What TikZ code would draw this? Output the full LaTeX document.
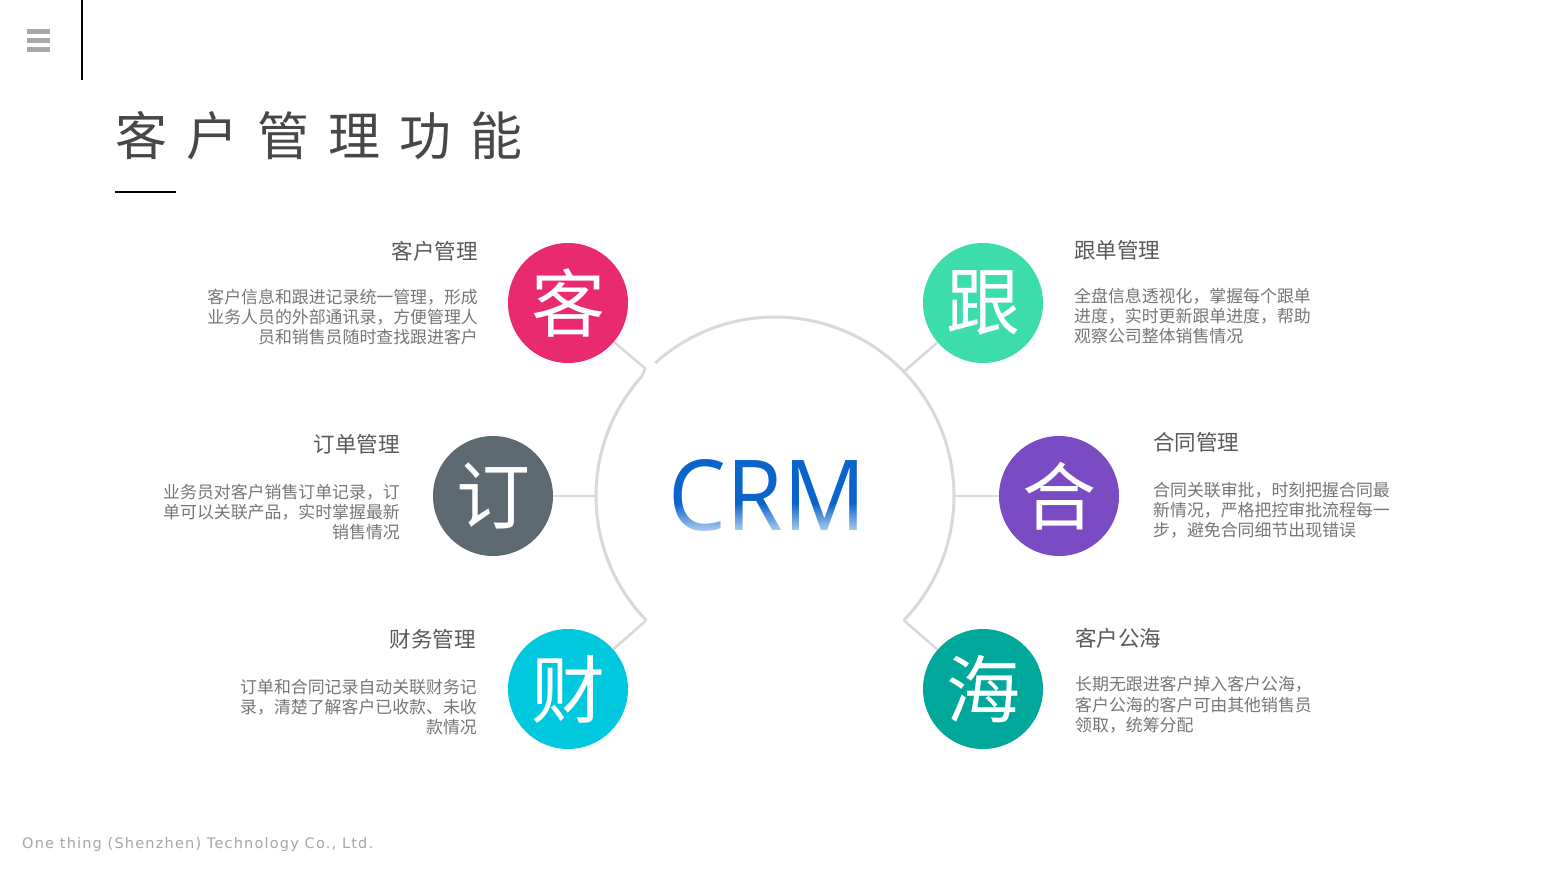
\documentclass[tikz,border=0pt]{standalone}
\usepackage{fontspec}
\setmainfont{Noto Sans CJK SC}
\newfontfamily\crmfont{Open Sans}
\newfontfamily\footfont[LetterSpace=8.2]{DejaVu Sans}
\usetikzlibrary{fadings,calc}
\definecolor{menugray}{HTML}{A6A9A7}
\definecolor{titlegray}{HTML}{474747}
\definecolor{headgray}{HTML}{595959}
\definecolor{bodygray}{HTML}{767676}
\definecolor{linegray}{HTML}{D9D9D9}
\definecolor{footgray}{HTML}{A6A6A6}
\definecolor{crmblue}{HTML}{0A64CC}
\definecolor{cpink}{HTML}{EA2A6F}
\definecolor{cmint}{HTML}{3DDDAB}
\definecolor{cslate}{HTML}{5D6A71}
\definecolor{cpurple}{HTML}{7B4BC4}
\definecolor{ccyan}{HTML}{00C8DE}
\definecolor{cteal}{HTML}{00A89C}
\tikzset{
  conn/.style={draw=linegray, line width=2.5pt, line join=miter},
  ring/.style={draw=linegray, line width=3pt},
  bubble/.style={circle, minimum size=120pt, inner sep=0pt, text=white, font=\fontsize{74}{74}\selectfont},
  headR/.style={anchor=base east, inner sep=0pt, text=headgray, font=\fontsize{21.5}{21.5}\selectfont},
  headL/.style={anchor=base west, inner sep=0pt, text=headgray, font=\fontsize{21.5}{21.5}\selectfont},
  bodyR/.style={anchor=base east, inner sep=0pt, text=bodygray, font=\fontsize{16.9}{20}\selectfont},
  bodyL/.style={anchor=base west, inner sep=0pt, text=bodygray, font=\fontsize{16.9}{20}\selectfont},
}
\begin{document}
\begin{tikzpicture}[x=1pt,y=-1pt]
\useasboundingbox (0,0) rectangle (1550,870);
\fill[white] (0,0) rectangle (1550,870);
% menu icon and bar
\fill[menugray] (27,29) rectangle (50,34);
\fill[menugray] (27,38) rectangle (50,43);
\fill[menugray] (27,47) rectangle (50,52);
\draw[line width=2pt] (82,0) -- (82,80);
% title
\node[anchor=base west, inner sep=0pt, text=titlegray, font=\fontsize{52}{52}\selectfont] (title) at (115,155)
  {客\hspace{19pt}户\hspace{19pt}管\hspace{19pt}理\hspace{19pt}功\hspace{19pt}能};
\draw[line width=2pt] (115,192) -- (176,192);
% center ring
\coordinate (O) at (775,496);
\coordinate (aTop) at ($(O)+(-132:179)$);
\coordinate (aBR) at ($(O)+(44:179)$);
\coordinate (aTR) at ($(O)+(-44:179)$);
\coordinate (aLL) at ($(O)+(-138:179)$);
\coordinate (aBL) at ($(O)+(-224:179)$);
\coordinate (aL) at ($(O)+(180:179)$);
\coordinate (aR) at ($(O)+(0:179)$);
\coordinate (kTL) at ($(O)+(-135.5:182)$);
\draw[ring] (aTop) arc[start angle=-132, end angle=44, radius=179];
\draw[ring] (aLL) arc[start angle=-138, end angle=-224, radius=179];
% CRM
\node[anchor=base, inner sep=0pt, text=crmblue, font=\crmfont\fontsize{98}{98}\selectfont] (crm) at (767.5,530) {\scalebox{0.935}[1]{CRM}};
\fill[white, path fading=north, fill opacity=0.8] (665,503) rectangle (870,536);
% bubbles
\node[bubble, fill=cpink] (ke) at (568,303) {客};
\node[bubble, fill=cmint] (gen) at (983,303) {跟};
\node[bubble, fill=cslate] (ding) at (493,496) {订};
\node[bubble, fill=cpurple] (he) at (1059,496) {合};
\node[bubble, fill=ccyan] (cai) at (568,689) {财};
\node[bubble, fill=cteal] (hai) at (983,689) {海};
% connectors
\draw[conn] (ke) -- (kTL) -- (aLL);
\draw[conn] (gen) -- (aTR);
\draw[conn] (ding) -- (aL);
\draw[conn] (he) -- (aR);
\draw[conn] (cai) -- (aBL);
\draw[conn] (hai) -- (aBR);
% texts
\node[headR] (h1) at (478,259.5) {客户管理};
\foreach \t [count=\i] in {客户信息和跟进记录统一管理，形成, 业务人员的外部通讯录，方便管理人, 员和销售员随时查找跟进客户}
  \node[bodyR] (b1-\i) at (478,{303.5+20*(\i-1)}) {\t};
\node[headL] (h2) at (1074,258) {跟单管理};
\foreach \t [count=\i] in {全盘信息透视化，掌握每个跟单, 进度，实时更新跟单进度，帮助, 观察公司整体销售情况}
  \node[bodyL] (b2-\i) at (1074,{302.5+20*(\i-1)}) {\t};
\node[headR] (h3) at (400,452) {订单管理};
\foreach \t [count=\i] in {业务员对客户销售订单记录，订, 单可以关联产品，实时掌握最新, 销售情况}
  \node[bodyR] (b3-\i) at (400,{498+20.3*(\i-1)}) {\t};
\node[headL] (h4) at (1153,450.5) {合同管理};
\foreach \t [count=\i] in {合同关联审批，时刻把握合同最, 新情况，严格把控审批流程每一, 步，避免合同细节出现错误}
  \node[bodyL] (b4-\i) at (1153,{496+20.3*(\i-1)}) {\t};
\node[headR] (h5) at (476,647.5) {财务管理};
\foreach \t [count=\i] in {订单和合同记录自动关联财务记, 录，清楚了解客户已收款、未收, 款情况}
  \node[bodyR] (b5-\i) at (477,{693+20.3*(\i-1)}) {\t};
\node[headL] (h6) at (1075,646) {客户公海};
\foreach \t [count=\i] in {长期无跟进客户掉入客户公海，, 客户公海的客户可由其他销售员, 领取，统筹分配}
  \node[bodyL] (b6-\i) at (1075,{690.5+20.5*(\i-1)}) {\t};
% footer
\node[anchor=base west, inner sep=0pt, text=footgray, font=\footfont\fontsize{14.5}{14.5}\selectfont] (foot) at (22,848) {One thing (Shenzhen) Technology Co., Ltd.};
\end{tikzpicture}
\end{document}
